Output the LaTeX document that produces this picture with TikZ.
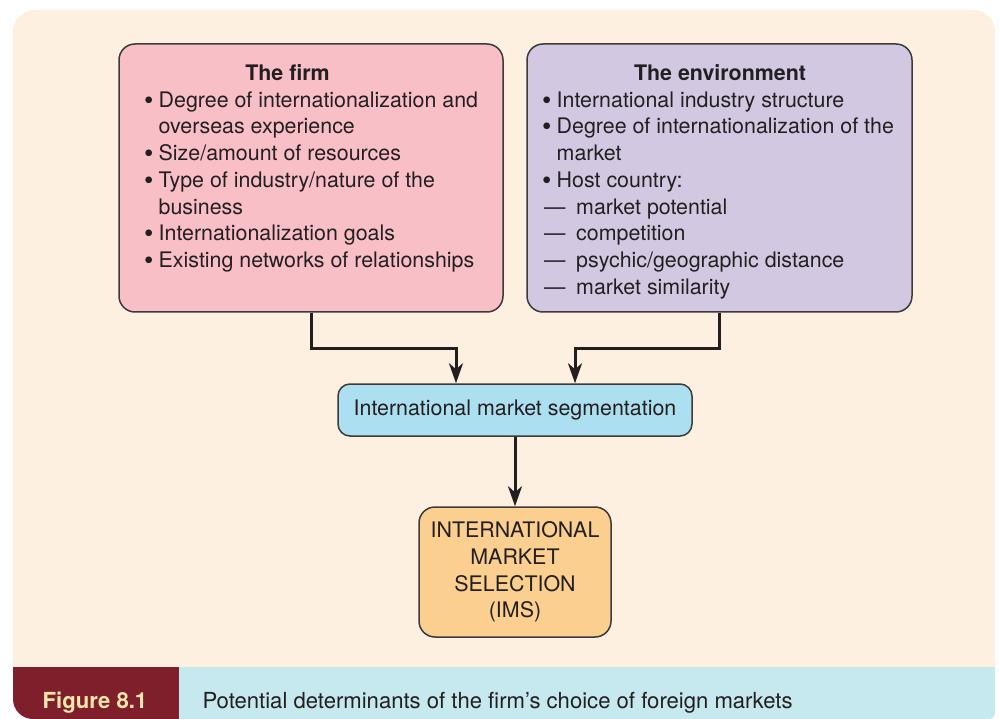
\documentclass[tikz,border=0pt]{standalone}
\usepackage{fontspec}
\setmainfont{TeX Gyre Heros}
\usepackage{tikz}
\usetikzlibrary{arrows.meta, calc}

\definecolor{panelcream}{HTML}{FDF0E0}
\definecolor{firmpink}{HTML}{F8BFC6}
\definecolor{envlilac}{HTML}{D3C8E2}
\definecolor{segblue}{HTML}{ACDFEF}
\definecolor{imsorange}{HTML}{FBCF8F}
\definecolor{capred}{HTML}{7E1F2B}
\definecolor{capblue}{HTML}{C6E8EF}
\definecolor{capyellow}{HTML}{FCE8AE}
\definecolor{inkgray}{HTML}{231F20}
\definecolor{rimgray}{HTML}{3C3A3B}

% list helpers
\newcommand{\bul}{\makebox[14.5pt][l]{\raisebox{-1.9pt}{\scalebox{1.25}{\textbullet}}}}
\newcommand{\indnt}{\hspace*{14.5pt}}
\newcommand{\dsh}{\hspace*{2pt}\makebox[32pt][l]{—}}
\newcommand{\bodyfont}{\fontsize{21.4}{26.75}\selectfont}
\newcommand{\capfont}{\fontsize{22.1}{26.75}\selectfont}

\begin{document}
\begin{tikzpicture}[x=1pt, y=-1pt, every node/.style={text=inkgray, font=\bodyfont}]
        \tikzstyle{box} = [draw=rimgray, line width=1.5pt, rounded corners=16pt, inner sep=0pt]
        \tikzstyle{ttl} = [font=\bodyfont\bfseries, inner sep=0pt]
        \tikzstyle{lst} = [align=left, inner sep=0pt]
        \tikzstyle{link} = [-{Stealth[length=20pt, width=14pt, inset=6pt]}, line width=3pt, draw=inkgray]
        \useasboundingbox (0,0) rectangle (999,719);
        % panel and caption strip
        \fill[panelcream] (13,667) -- (13,32) arc[start angle=180, end angle=90, radius=22pt]
            -- (973,10) arc[start angle=90, end angle=0, radius=22pt] -- (995,667) -- cycle;
        \fill[capred] (179,667) -- (13,667) -- (13,699) arc[start angle=180, end angle=270, radius=20pt]
            -- (179,719) -- cycle;
        \fill[capblue] (179,667) -- (995,667) -- (995,713) arc[start angle=0, end angle=-90, radius=6pt]
            -- (179,719) -- cycle;
        \node[font=\capfont\bfseries, text=capyellow, anchor=base] (fignum) at (95,708) {Figure 8.1};
        \node[font=\capfont, anchor=base west] (figcap) at (199,708) {Potential determinants of the firm’s choice of foreign markets};
        % boxes
        \node[box, fill=firmpink, minimum width=384pt, minimum height=268pt] (firm) at (311,178) {};
        \node[box, fill=envlilac, minimum width=385pt, minimum height=268pt] (env) at (719.5,178) {};
        \node[box, fill=segblue, rounded corners=12pt, minimum width=354pt, minimum height=52pt] (seg) at (515,410) {International market segmentation};
        \node[box, fill=imsorange, align=center, minimum width=192pt, minimum height=130pt] (ims) at (515,572) {INTERNATIONAL\\MARKET\\SELECTION\\(IMS)};
        % box contents
        \node[ttl, anchor=base] (firmttl) at (287.5,81) {The firm};
        \node[lst, anchor=north west] (firmlst) at (144,88.3) {\strut\bul Degree of internationalization and\\
            \indnt overseas experience\\
            \bul Size/amount of resources\\
            \bul Type of industry/nature of the\\
            \indnt business\\
            \bul Internationalization goals\\
            \bul Existing networks of relationships};
        \node[ttl, anchor=base] (envttl) at (720,81) {The environment};
        \node[lst, anchor=north west] (envlst) at (542,88.3) {\strut\bul International industry structure\\
            \bul Degree of internationalization of the\\
            \indnt market\\
            \bul Host country:\\
            \dsh market potential\\
            \dsh competition\\
            \dsh psychic/geographic distance\\
            \dsh market similarity};
        % arrows
        \draw[link] (firm.south) -- ++(0,36) -| ([xshift=-59pt]seg.north);
        \draw[link] (env.south) -- ++(0,36) -| ([xshift=60pt]seg.north);
        \draw[link] (seg) -- (ims);
      \end{tikzpicture}
\end{document}
